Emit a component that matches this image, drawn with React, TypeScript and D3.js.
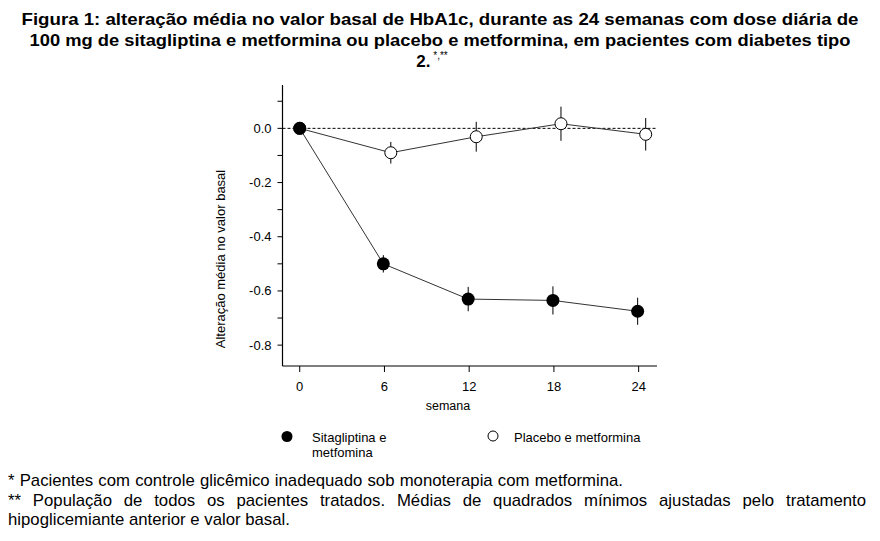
import React, { useLayoutEffect, useRef } from "react";
import * as d3 from "d3";

const weeks = [0, 6, 12, 18, 24];
const sitaMean = [0, -0.5, -0.63, -0.635, -0.675];
const sitaErr = [0, 0.032, 0.045, 0.052, 0.05];
const placMean = [0, -0.09, -0.031, 0.017, -0.022];
const placErr = [0, 0.04, 0.055, 0.063, 0.06];
const placOffset = [0, 0.45, 0.5, 0.5, 0.5];
const sitaOffset = [0, -0.08, -0.07, -0.07, -0.07];
const yTicks = [0, -0.2, -0.4, -0.6, -0.8];
const yMinorTicks = [0.1, -0.1, -0.3, -0.5, -0.7];
const xTicks = [0, 6, 12, 18, 24];

const titleLines = [
  "Figura 1: alteração média no valor basal de HbA1c, durante as 24 semanas com dose diária de",
  "100 mg de sitagliptina e metformina ou placebo e metformina, em pacientes com diabetes tipo",
];
const titleLengths = [837, 821];

const footLines = [
  "* Pacientes com controle glicêmico inadequado sob monoterapia com metformina.",
  "** População de todos os pacientes tratados. Médias de quadrados mínimos ajustadas pelo tratamento",
  "hipoglicemiante anterior e valor basal.",
];
const footWidths = [615, 858, 282];

export default function App() {
  const footRefs = useRef<(SVGTextElement | null)[]>([]);
  useLayoutEffect(() => {
    // scale font so the last line matches, then justify the others with word spacing
    const last = footRefs.current[2];
    if (!last) return;
    const base = 14;
    const w3 = last.getComputedTextLength();
    const fs = (base * footWidths[2]) / w3;
    footRefs.current.forEach((el) => el && el.setAttribute("font-size", String(fs)));
    footRefs.current.forEach((el, i) => {
      if (!el || i === 2) return;
      const w = el.getComputedTextLength();
      const spaces = footLines[i].split(" ").length - 1;
      el.setAttribute("word-spacing", String((footWidths[i] - w) / spaces));
    });
  }, []);

  const x = d3.scaleLinear().domain([-1.22, 25.3]).range([282.5, 657]);
  const y = d3.scaleLinear().domain([-0.877, 0.16]).range([366, 85]);
  const line = d3
    .line<[number, number]>()
    .x((d) => x(d[0]))
    .y((d) => y(d[1]));
  const sitaPts: [number, number][] = weeks.map((w, i) => [w + sitaOffset[i], sitaMean[i]]);
  const placPts: [number, number][] = weeks.map((w, i) => [w + placOffset[i], placMean[i]]);
  const font = "Arial, 'Liberation Sans', sans-serif";
  return (
    <svg
      width={880}
      height={541}
      style={{ position: "absolute", left: 0, top: 0, background: "#fff" }}
      fontFamily={font}
    >
      {titleLines.map((t, i) => (
        <text
          key={i}
          x={440 - titleLengths[i] / 2}
          y={25 + i * 21}
          fontSize={17}
          fontWeight="bold"
          textLength={titleLengths[i]}
          lengthAdjust="spacingAndGlyphs"
        >
          {t}
        </text>
      ))}
      <text x={432} y={67} textAnchor="middle" fontSize={17} fontWeight="bold">
        2.
        <tspan fontSize={10} fontWeight="normal" dy={-8}>
          {" *,**"}
        </tspan>
      </text>

      {/* axes */}
      <line x1={x(-1.22)} x2={x(-1.22)} y1={y(0.16)} y2={y(-0.877)} stroke="#000" strokeWidth={1.2} />
      <line x1={x(-1.22)} x2={x(25.3)} y1={y(-0.877)} y2={y(-0.877)} stroke="#000" strokeWidth={1.2} />
      {yTicks.map((t) => (
        <g key={t}>
          <line x1={x(-1.22) - 5} x2={x(-1.22)} y1={y(t)} y2={y(t)} stroke="#000" />
          <text x={x(-1.22) - 11} y={y(t) + 4.5} textAnchor="end" fontSize={13}>
            {t === 0 ? "0.0" : d3.format(".1f")(t).replace("−", "-")}
          </text>
        </g>
      ))}
      {yMinorTicks.map((t) => (
        <line key={t} x1={x(-1.22) - 5} x2={x(-1.22)} y1={y(t)} y2={y(t)} stroke="#000" />
      ))}
      {xTicks.map((t) => (
        <g key={t}>
          <line x1={x(t)} x2={x(t)} y1={y(-0.877)} y2={y(-0.877) + 6} stroke="#000" />
          <text x={x(t)} y={y(-0.877) + 25} textAnchor="middle" fontSize={13}>
            {t}
          </text>
        </g>
      ))}
      <text x={448} y={410} textAnchor="middle" fontSize={12.5}>
        semana
      </text>
      <text transform={`translate(225,259) rotate(-90)`} textAnchor="middle" fontSize={13}>
        Alteração média no valor basal
      </text>

      {/* zero reference */}
      <line
        x1={x(-1.22)}
        x2={x(25.3)}
        y1={y(0)}
        y2={y(0)}
        stroke="#000"
        strokeWidth={1}
        strokeDasharray="3,2"
      />

      {/* lines */}
      <path d={line(placPts) || ""} fill="none" stroke="#333" strokeWidth={1} />
      <path d={line(sitaPts) || ""} fill="none" stroke="#333" strokeWidth={1} />

      {/* error bars */}
      {placPts.map((p, i) =>
        placErr[i] > 0 ? (
          <line
            key={"pe" + i}
            x1={x(p[0])}
            x2={x(p[0])}
            y1={y(p[1] + placErr[i])}
            y2={y(p[1] - placErr[i])}
            stroke="#000"
            strokeWidth={1}
          />
        ) : null
      )}
      {sitaPts.map((p, i) =>
        sitaErr[i] > 0 ? (
          <line
            key={"se" + i}
            x1={x(p[0])}
            x2={x(p[0])}
            y1={y(p[1] + sitaErr[i])}
            y2={y(p[1] - sitaErr[i])}
            stroke="#000"
            strokeWidth={1}
          />
        ) : null
      )}

      {/* markers */}
      {placPts.map((p, i) => (
        <circle key={"pc" + i} cx={x(p[0])} cy={y(p[1])} r={6} fill="#fff" stroke="#000" strokeWidth={1} />
      ))}
      {sitaPts.map((p, i) => (
        <circle key={"sc" + i} cx={x(p[0])} cy={y(p[1])} r={6.5} fill="#000" />
      ))}

      {/* legend */}
      <circle cx={287} cy={436.5} r={5.5} fill="#000" />
      <text x={312} y={442} fontSize={13}>
        Sitagliptina e
      </text>
      <text x={312} y={457} fontSize={13}>
        metfomina
      </text>
      <circle cx={493} cy={436} r={5} fill="#fff" stroke="#000" strokeWidth={1} />
      <text x={514} y={442} fontSize={13}>
        Placebo e metformina
      </text>

      {/* footnotes */}
      {footLines.map((t, i) => (
        <text
          key={"f" + i}
          ref={(el) => {
            footRefs.current[i] = el;
          }}
          x={8}
          y={486 + i * 19.5}
          fontSize={14}
        >
          {t}
        </text>
      ))}
    </svg>
  );
}
